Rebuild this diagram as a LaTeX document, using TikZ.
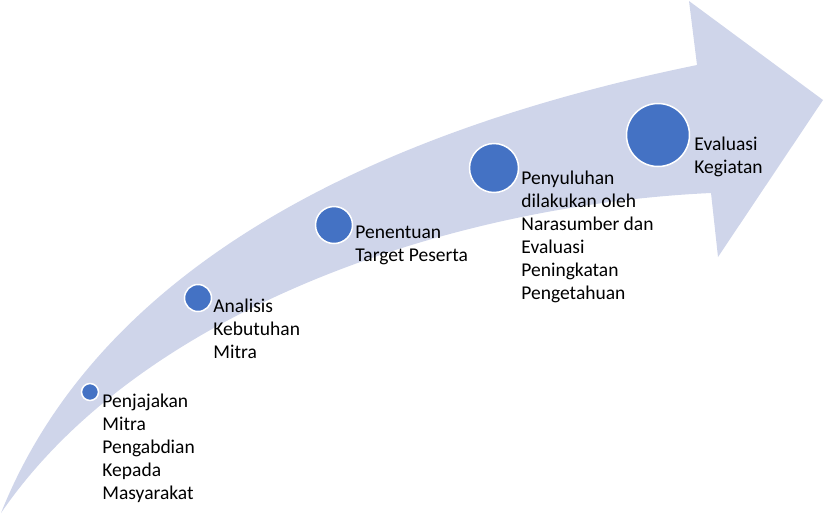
\documentclass[tikz,border=0pt]{standalone}
\usepackage{fontspec}
\setmainfont{Carlito}
\usepackage{xcolor}
\usepackage{tikz}
\usetikzlibrary{positioning}

\definecolor{bandcol}{HTML}{CFD5EA}
\definecolor{dotcol}{HTML}{4472C4}

\begin{document}
\begin{tikzpicture}[x=1pt,y=-1pt,
    dot/.style={circle,fill=dotcol,draw=white,line width=1.5pt,inner sep=0pt},
    lbl/.style={anchor=north west,inner sep=0pt,align=left,
      font=\fontsize{19.5}{23}\selectfont,text=black,
      execute at begin node=\strut}]
    \useasboundingbox (0,0) rectangle (824,515);
    % curved arrow
    \fill[bandcol] (1,513) .. controls (90,290) and (330,140) .. (697,65)
      -- (689,1) -- (823,100) -- (718,257) -- (711,193)
      .. controls (450,205) and (140,310) .. (1,513) -- cycle;
    % steps
    \node[dot,minimum size=17pt] (p1) at (90,392) {};
    \node[dot,minimum size=27pt] (p2) at (198,298) {};
    \node[dot,minimum size=37pt] (p3) at (334,225) {};
    \node[dot,minimum size=49pt] (p4) at (494,168) {};
    \node[dot,minimum size=63pt] (p5) at (658,135) {};
    \node[lbl] (t1) at ([shift={(3,2)}]p1.east) {Penjajakan\\Mitra\\Pengabdian\\Kepada\\Masyarakat};
    \node[lbl] (t2) at ([shift={(1,1)}]p2.east) {Analisis\\Kebutuhan\\Mitra};
    \node[lbl] (t3) at ([shift={(2,1)}]p3.east) {Penentuan\\Target Peserta};
    \node[lbl] (t4) at ([shift={(2,3)}]p4.east) {Penyuluhan\\dilakukan oleh\\Narasumber dan\\Evaluasi\\Peningkatan\\Pengetahuan};
    \node[lbl] (t5) at ([shift={(4,2)}]p5.east) {Evaluasi\\Kegiatan};
\end{tikzpicture}
\end{document}
